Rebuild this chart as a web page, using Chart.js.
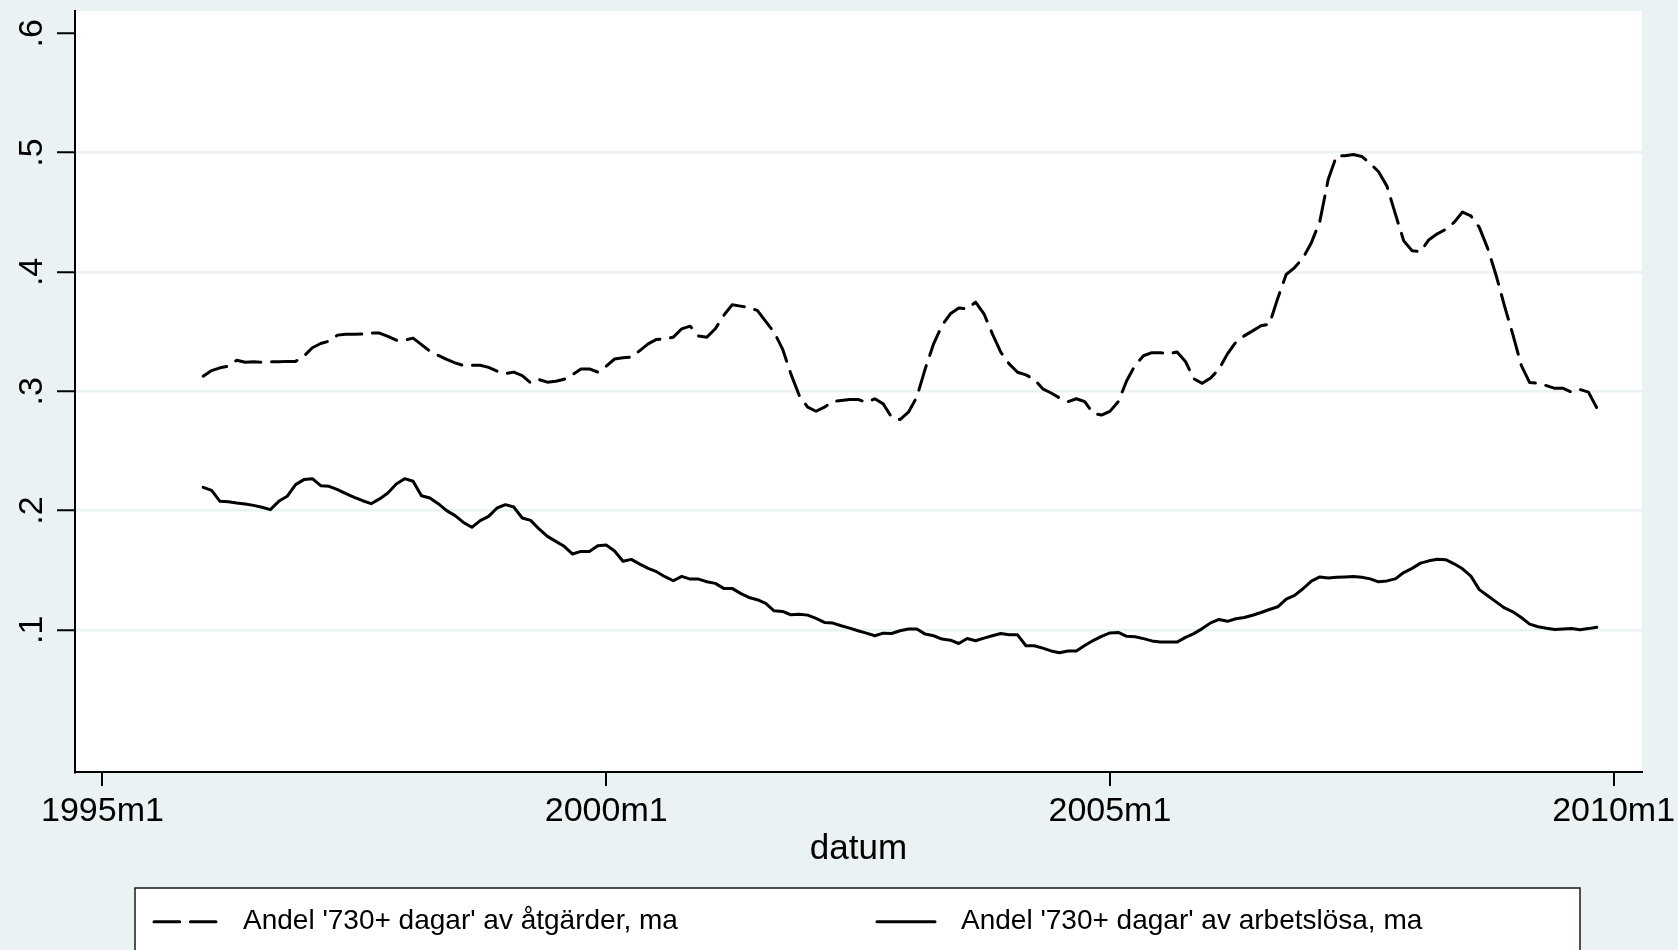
<!DOCTYPE html>
<html>
<head>
<meta charset="utf-8">
<script src="https://cdn.jsdelivr.net/npm/chart.js@4/dist/chart.umd.min.js"></script>
<style>
  html, body { margin: 0; padding: 0; background: #EAF2F3; }
  #wrap { width: 1678px; height: 950px; position: relative; }
  canvas { display: block; }
</style>
</head>
<body>
<div id="wrap"><canvas id="c" width="1678" height="950"></canvas></div>
<script>
// ---- data (months counted from 1995m1 = 0; series start 1996m1) ----
const startMonth = 12;
const atgarder = [
  0.3126, 0.3173, 0.3196, 0.3210, 0.3260, 0.3243, 0.3246, 0.3243, 0.3246, 0.3246,
  0.3250, 0.3250, 0.3294, 0.3364, 0.3400, 0.3420, 0.3470, 0.3478, 0.3478, 0.3480,
  0.3487, 0.3487, 0.3460, 0.3428, 0.3428, 0.3445, 0.3390, 0.3336, 0.3300, 0.3266,
  0.3238, 0.3215, 0.3218, 0.3218, 0.3200, 0.3168, 0.3148, 0.3160, 0.3131, 0.3070,
  0.3098, 0.3076, 0.3084, 0.3100, 0.3140, 0.3187, 0.3187, 0.3160, 0.3210, 0.3270,
  0.3280, 0.3285, 0.3340, 0.3397, 0.3434, 0.3440, 0.3453, 0.3523, 0.3545, 0.3462,
  0.3453, 0.3523, 0.3635, 0.3724, 0.3713, 0.3700, 0.3677, 0.3585, 0.3495, 0.3355,
  0.3145, 0.2964, 0.2866, 0.2832, 0.2866, 0.2913, 0.2922, 0.2930, 0.2930, 0.2908,
  0.2936, 0.2894, 0.2782, 0.2762, 0.2824, 0.2950, 0.3187, 0.3397, 0.3551, 0.3649,
  0.3697, 0.3690, 0.3747, 0.3649, 0.3481, 0.3327, 0.3229, 0.3159, 0.3137, 0.3098,
  0.3020, 0.2985, 0.2944, 0.2912, 0.2937, 0.2912, 0.2815, 0.2800, 0.2831, 0.2912,
  0.3088, 0.3217, 0.3297, 0.3323, 0.3323, 0.3313, 0.3329, 0.3249, 0.3104, 0.3066,
  0.3111, 0.3185, 0.3313, 0.3410, 0.3464, 0.3506, 0.3548, 0.3561, 0.3780, 0.3978,
  0.4036, 0.4116, 0.4245, 0.4422, 0.4775, 0.4974, 0.4974, 0.4984, 0.4968, 0.4910,
  0.4839, 0.4719, 0.4486, 0.4260, 0.4178, 0.4170, 0.4270, 0.4319, 0.4357, 0.4415,
  0.4502, 0.4470, 0.4373, 0.4197, 0.3972, 0.3715, 0.3474, 0.3217, 0.3072, 0.3066,
  0.3047, 0.3024, 0.3024, 0.2992, 0.3014, 0.2992, 0.2860
];
const arbetslosa = [
  0.2194, 0.2169, 0.2077, 0.2074, 0.2063, 0.2055, 0.2043, 0.2027, 0.2007, 0.2077,
  0.2119, 0.2217, 0.2259, 0.2267, 0.2208, 0.2203, 0.2175, 0.2141, 0.2110, 0.2082,
  0.2057, 0.2097, 0.2147, 0.2222, 0.2267, 0.2245, 0.2124, 0.2105, 0.2057, 0.1999,
  0.1957, 0.1900, 0.1859, 0.1915, 0.1951, 0.2021, 0.2049, 0.2029, 0.1937, 0.1917,
  0.1845, 0.1783, 0.1741, 0.1700, 0.1635, 0.1657, 0.1657, 0.1705, 0.1710, 0.1660,
  0.1574, 0.1590, 0.1551, 0.1515, 0.1487, 0.1445, 0.1411, 0.1448, 0.1425, 0.1425,
  0.1403, 0.1389, 0.1347, 0.1347, 0.1305, 0.1271, 0.1252, 0.1221, 0.1159, 0.1154,
  0.1126, 0.1131, 0.1123, 0.1095, 0.1062, 0.1056, 0.1034, 0.1014, 0.0992, 0.0972,
  0.0950, 0.0972, 0.0969, 0.0992, 0.1006, 0.1006, 0.0964, 0.0950, 0.0922, 0.0913,
  0.0885, 0.0927, 0.0908, 0.0930, 0.0950, 0.0969, 0.0958, 0.0958, 0.0866, 0.0866,
  0.0846, 0.0823, 0.0807, 0.0823, 0.0823, 0.0868, 0.0910, 0.0945, 0.0974, 0.0978,
  0.0945, 0.0942, 0.0926, 0.0907, 0.0897, 0.0897, 0.0897, 0.0936, 0.0968, 0.1010,
  0.1058, 0.1087, 0.1071, 0.1093, 0.1103, 0.1122, 0.1145, 0.1170, 0.1193, 0.1257,
  0.1289, 0.1344, 0.1408, 0.1443, 0.1434, 0.1440, 0.1443, 0.1447, 0.1440, 0.1427,
  0.1402, 0.1410, 0.1427, 0.1480, 0.1515, 0.1559, 0.1578, 0.1591, 0.1588, 0.1553,
  0.1511, 0.1450, 0.1337, 0.1286, 0.1234, 0.1183, 0.1151, 0.1103, 0.1048, 0.1026,
  0.1013, 0.1003, 0.1006, 0.1010, 0.1000, 0.1010, 0.1022
];
const seriesLabels = [
  "Andel '730+ dagar' av åtgärder, ma",
  "Andel '730+ dagar' av arbetslösa, ma"
];
const xTickValues = [0, 60, 120, 180];
const xTickLabels = ['1995m1', '2000m1', '2005m1', '2010m1'];
const yTickValues = [0.1, 0.2, 0.3, 0.4, 0.5, 0.6];
const yTickLabels = ['.1', '.2', '.3', '.4', '.5', '.6'];
const xTitle = 'datum';

// ---- build ----
const months = atgarder.map((_, i) => startMonth + i);
const toPts = arr => arr.map((v, i) => ({ x: months[i], y: v }));

const BG = '#EAF2F3';
const GRID = '#EAF2F3';
const FONT = '"Liberation Sans", Arial, Helvetica, sans-serif';
Chart.defaults.font.family = FONT;
Chart.defaults.color = '#000';

const bgPlugin = {
  id: 'bg',
  beforeDraw(chart) {
    const { ctx, chartArea: a } = chart;
    ctx.save();
    ctx.fillStyle = BG;
    ctx.fillRect(0, 0, chart.width, chart.height);
    ctx.fillStyle = '#FFFFFF';
    ctx.fillRect(a.left, a.top, a.right - a.left, a.bottom - a.top);
    ctx.restore();
  }
};

const yLabelPlugin = {
  id: 'yLabels',
  afterDraw(chart) {
    const { ctx } = chart;
    const ys = chart.scales.y;
    ctx.save();
    ctx.fillStyle = '#000';
    ctx.font = '34px ' + FONT;
    ctx.textAlign = 'center';
    ctx.textBaseline = 'alphabetic';
    yTickValues.forEach((v, i) => {
      const py = ys.getPixelForValue(v);
      ctx.save();
      ctx.translate(41.7, py);
      ctx.rotate(-Math.PI / 2);
      ctx.fillText(yTickLabels[i], 0, 0);
      ctx.restore();
    });
    ctx.restore();
  }
};

const legendPlugin = {
  id: 'boxLegend',
  afterDraw(chart) {
    const { ctx } = chart;
    const box = { x: 135, y: 888, w: 1445, h: 90 };
    ctx.save();
    ctx.fillStyle = '#FFFFFF';
    ctx.fillRect(box.x, box.y, box.w, box.h);
    ctx.strokeStyle = '#1a1a1a';
    ctx.lineWidth = 1.5;
    ctx.strokeRect(box.x, box.y, box.w, box.h);
    const items = [
      { x0: 154, x1: 216, tx: 243 },
      { x0: 877, x1: 935, tx: 961 }
    ];
    const cy = 921.7;
    chart.data.datasets.forEach((ds, i) => {
      const it = items[i];
      ctx.beginPath();
      ctx.setLineDash(ds.borderDash || []);
      ctx.lineCap = ds.borderCapStyle || 'butt';
      ctx.lineWidth = ds.borderWidth;
      ctx.strokeStyle = ds.borderColor;
      ctx.moveTo(it.x0, cy);
      ctx.lineTo(it.x1, cy);
      ctx.stroke();
      ctx.setLineDash([]);
      ctx.fillStyle = '#000';
      ctx.font = '28px ' + FONT;
      ctx.textAlign = 'left';
      ctx.textBaseline = 'middle';
      ctx.fillText(ds.label, it.tx, cy);
    });
    ctx.restore();
  }
};

new Chart(document.getElementById('c'), {
  type: 'line',
  data: {
    datasets: [
      {
        label: seriesLabels[0],
        data: toPts(atgarder),
        borderColor: '#000',
        borderWidth: 3,
        borderDash: [25.7, 10.7],
        borderCapStyle: 'round',
        borderJoinStyle: 'round',
        pointRadius: 0,
        fill: false,
        tension: 0
      },
      {
        label: seriesLabels[1],
        data: toPts(arbetslosa),
        borderColor: '#000',
        borderWidth: 3,
        borderCapStyle: 'round',
        borderJoinStyle: 'round',
        pointRadius: 0,
        fill: false,
        tension: 0
      }
    ]
  },
  options: {
    responsive: false,
    animation: false,
    devicePixelRatio: 1,
    layout: { padding: { left: 0, top: 11, right: 36, bottom: 0 } },
    plugins: {
      legend: { display: false },
      tooltip: { enabled: false }
    },
    scales: {
      x: {
        type: 'linear',
        min: -3.27,
        max: 183.38,
        afterBuildTicks: s => { s.ticks = xTickValues.map(v => ({ value: v })); },
        afterFit: s => { s.height = 178; s.paddingLeft = 0; s.paddingRight = 0; },
        ticks: {
          autoSkip: false,
          maxRotation: 0,
          minRotation: 0,
          padding: 5,
          font: { size: 34 },
          color: '#000',
          callback: (v, i) => xTickLabels[i]
        },
        grid: {
          display: true,
          drawOnChartArea: false,
          drawTicks: true,
          tickLength: 14,
          tickColor: '#000',
          tickWidth: 2,
          lineWidth: 2
        },
        border: { display: true, color: '#000', width: 2 },
        title: {
          display: true,
          text: xTitle,
          font: { size: 35 },
          color: '#000',
          padding: { top: 0, bottom: 80 }
        }
      },
      y: {
        type: 'linear',
        min: -0.0192,
        max: 0.6187,
        afterBuildTicks: s => { s.ticks = yTickValues.map(v => ({ value: v })); },
        afterFit: s => { s.width = 75; s.paddingTop = 0; s.paddingBottom = 0; },
        ticks: { display: false },
        grid: {
          display: true,
          drawOnChartArea: true,
          drawTicks: true,
          tickLength: 18,
          tickColor: '#000',
          tickWidth: 2,
          lineWidth: 2.5,
          color: ctx => (ctx.tick && ctx.tick.value >= 0.6 - 1e-9) ? 'rgba(0,0,0,0)' : GRID
        },
        border: { display: true, color: '#000', width: 2 }
      }
    }
  },
  plugins: [bgPlugin, yLabelPlugin, legendPlugin]
});
</script>
</body>
</html>
